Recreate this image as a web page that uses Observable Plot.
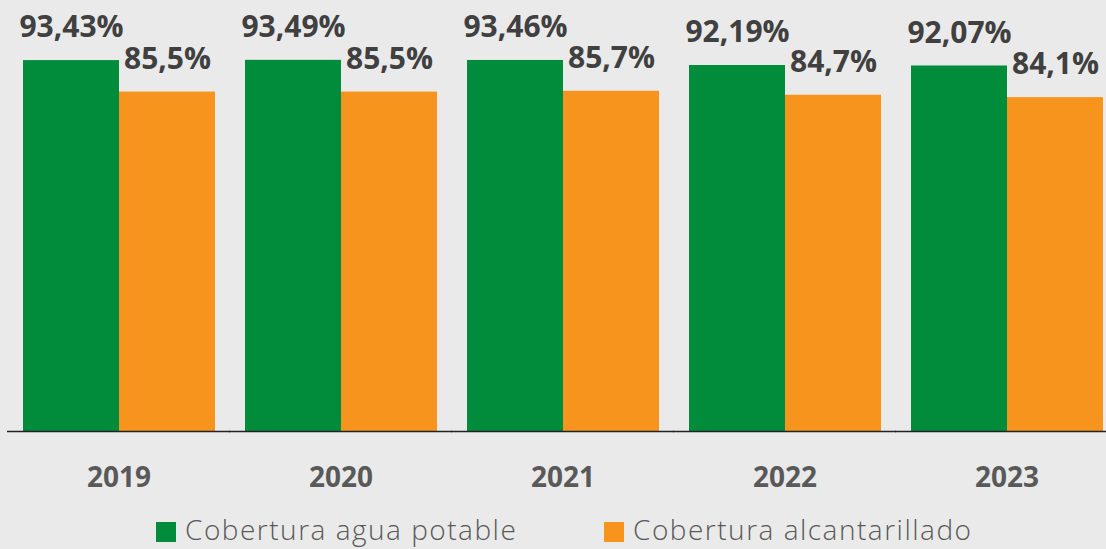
<!DOCTYPE html>
<html>
<head>
<meta charset="utf-8">
<script src="https://cdn.jsdelivr.net/npm/d3@7"></script>
<script src="https://cdn.jsdelivr.net/npm/@observablehq/plot@0.6"></script>
<style>
  html, body { margin: 0; padding: 0; background: #eaeaea; overflow: hidden; }
  #chart { width: 1106px; }
  .legend { height: 49px; display: flex; align-items: flex-end; padding-left: 156px; font-family: "Open Sans", sans-serif; font-weight: 300; font-size: 28px; letter-spacing: 1.5px; color: #595959; }
  .item { display: flex; align-items: center; height: 32px; line-height: 32px; margin-bottom: 4px; white-space: nowrap; }
  .sw { width: 20px; height: 20px; margin-right: 9px; margin-top: 6px; flex: none; }
</style>
</head>
<body>
<div id="chart"></div>
<script>
const years = ["2019", "2020", "2021", "2022", "2023"];
const series = ["Cobertura agua potable", "Cobertura alcantarillado"];
const agua = [93.43, 93.49, 93.46, 92.19, 92.07];
const alcantarillado = [85.5, 85.5, 85.7, 84.7, 84.1];
const colors = ["#008c3a", "#f7941d"];

const rows = [];
years.forEach((yr, i) => {
  rows.push({year: yr, serie: series[0], value: agua[i], label: agua[i].toFixed(2).replace(".", ",") + "%"});
  rows.push({year: yr, serie: series[1], value: alcantarillado[i], label: alcantarillado[i].toFixed(1).replace(".", ",") + "%"});
});

const plot = Plot.plot({
  width: 1106,
  height: 500,
  marginTop: 34,
  marginBottom: 69,
  marginLeft: 7,
  marginRight: 0,
  style: {background: "transparent", fontFamily: "Open Sans, sans-serif", overflow: "visible"},
  fx: {domain: years, paddingInner: 0.13, paddingOuter: 0.038, align: 0.84},
  x: {domain: series, padding: 0, axis: null},
  y: {domain: [0, 100], axis: null},
  color: {domain: series, range: colors},
  marks: [
    Plot.barY(rows, {fx: "year", x: "serie", y: "value", fill: "serie"}),
    Plot.ruleY([0], {stroke: "#222", strokeWidth: 1.5, insetLeft: -15, insetRight: -15}),
    Plot.text(rows, {fx: "year", x: "serie", y: "value", text: "label", lineAnchor: "middle", dy: -33, fontSize: 30, fontWeight: "bold", fill: "#404040"}),
    Plot.axisFx({anchor: "bottom", tickSize: 0, tickPadding: 36, fontSize: 28, fontWeight: "bold", fill: "#595959", label: null})
  ]
});
document.getElementById("chart").appendChild(plot);

const legend = document.createElement("div");
legend.className = "legend";
series.forEach((s, i) => {
  const it = document.createElement("div");
  it.className = "item";
  if (i === 0) it.style.width = "448px";
  const sw = document.createElement("div");
  sw.className = "sw";
  sw.style.background = colors[i];
  const tx = document.createElement("span");
  tx.textContent = s;
  it.appendChild(sw);
  it.appendChild(tx);
  legend.appendChild(it);
});
document.getElementById("chart").appendChild(legend);
</script>
</body>
</html>
